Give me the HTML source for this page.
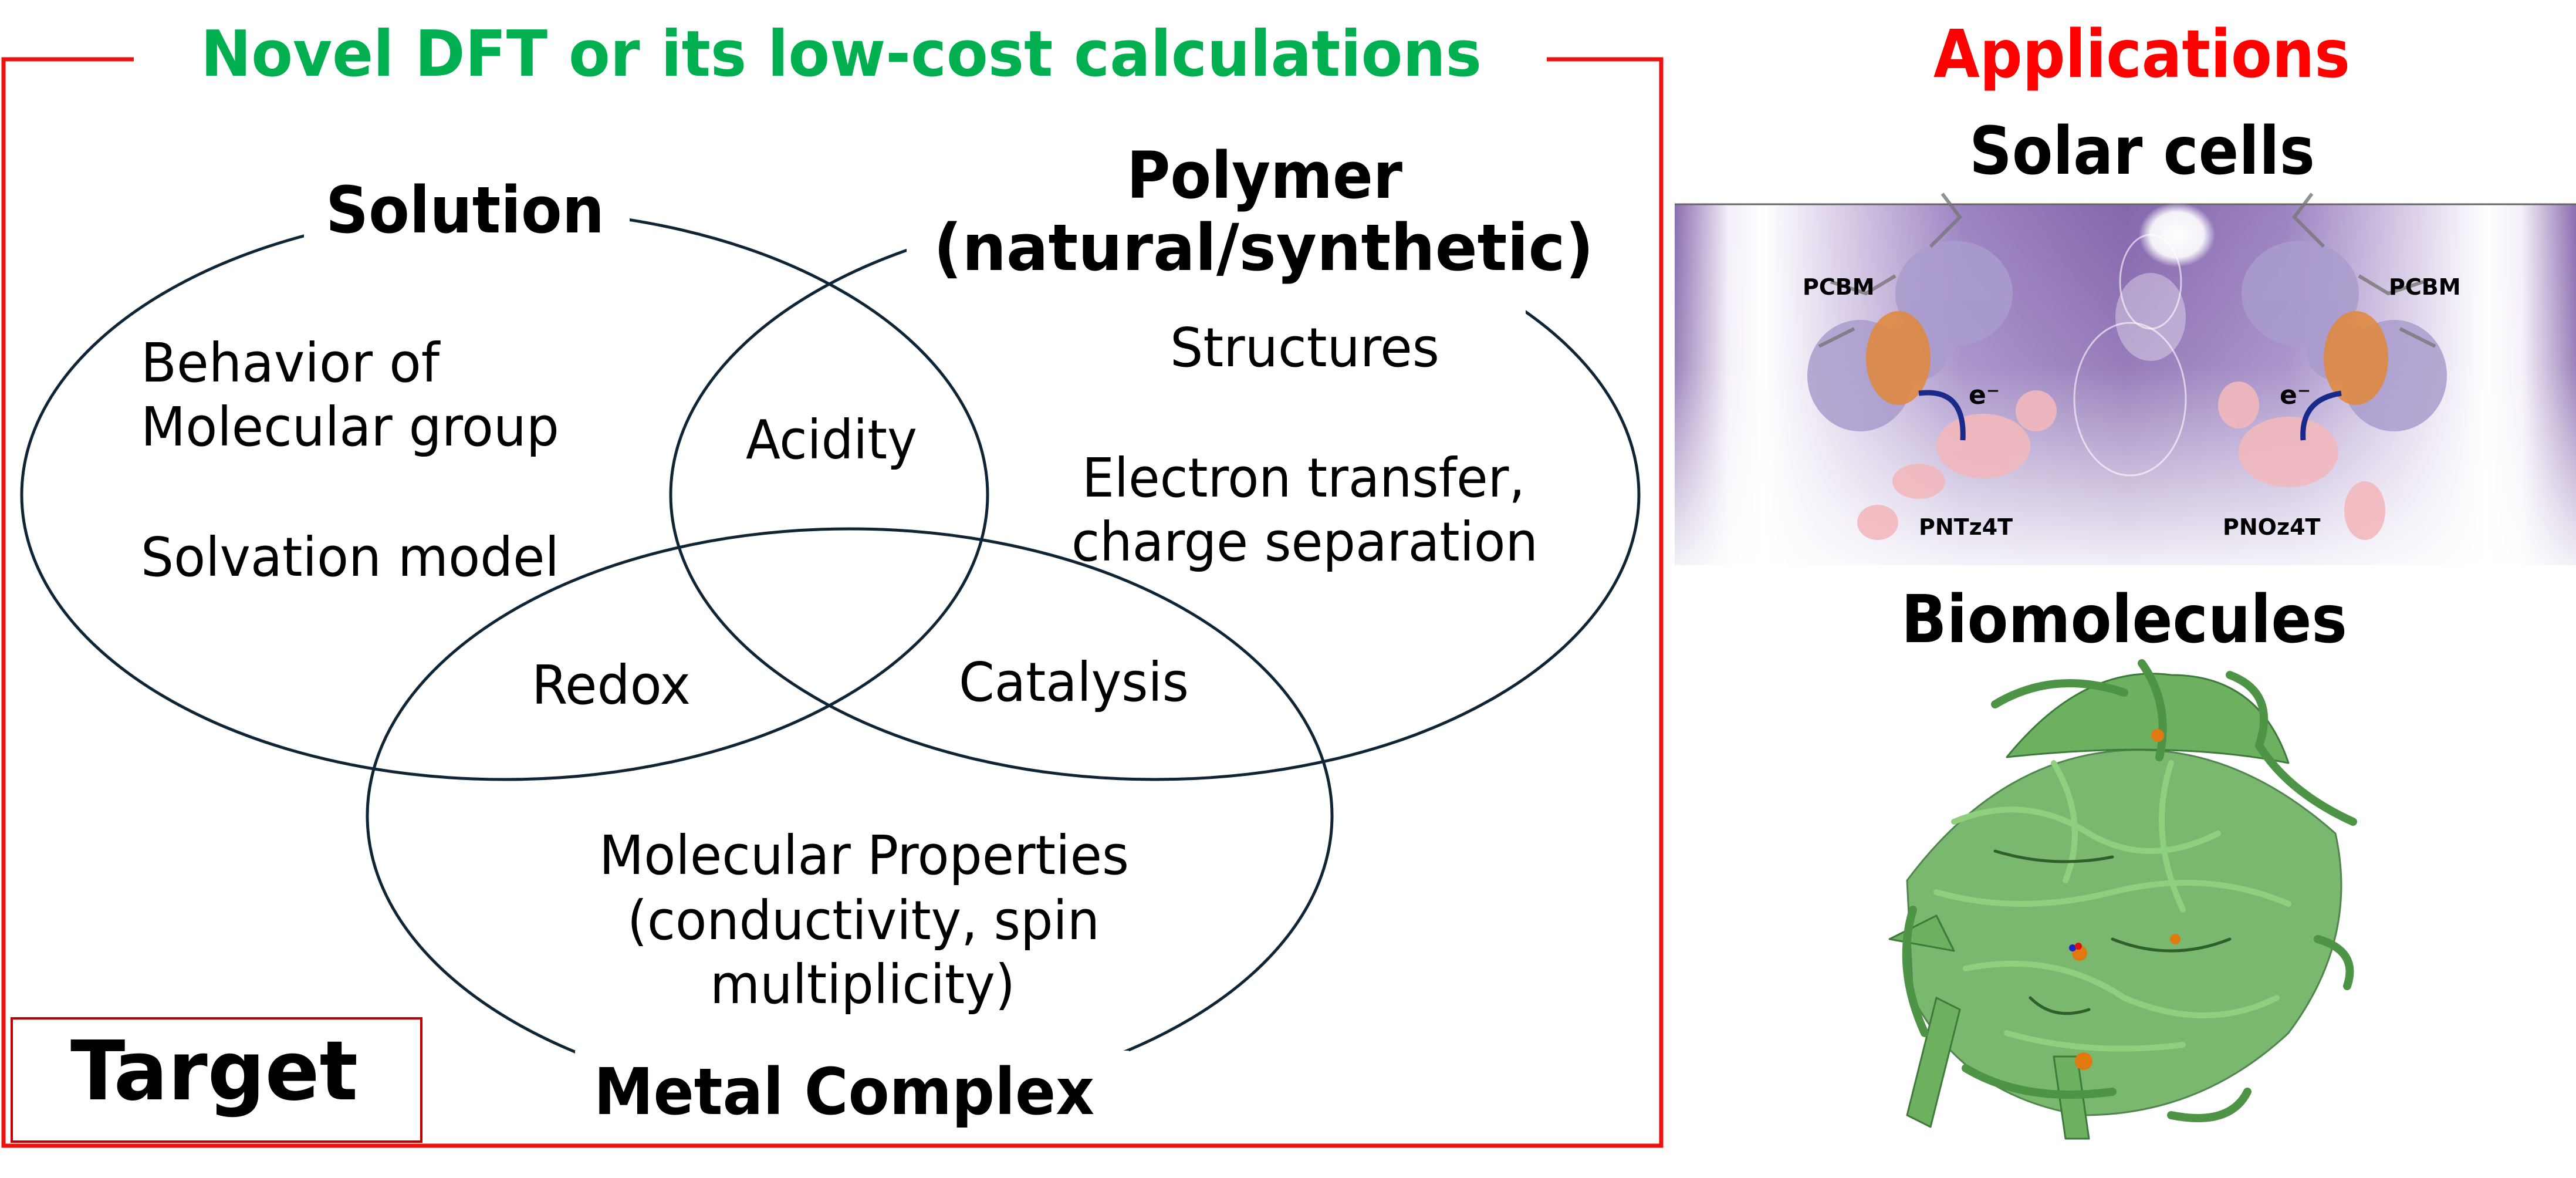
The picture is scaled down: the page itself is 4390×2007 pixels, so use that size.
<!DOCTYPE html>
<html><head><meta charset="utf-8"><style>
html,body{margin:0;padding:0;background:#fff;}
svg{display:block;}
.c{font-family:"DejaVu Sans Condensed","Liberation Sans",sans-serif;}
.v{font-family:"DejaVu Sans","Liberation Sans",sans-serif;font-weight:bold;}
</style></head><body>
<svg width="4390" height="2007" viewBox="0 0 4390 2007" xmlns="http://www.w3.org/2000/svg">
<defs>
<linearGradient id="bgh" x1="0" y1="0" x2="1" y2="0">
<stop offset="0" stop-color="#8a6db0"/><stop offset="0.06" stop-color="#f4eff8"/><stop offset="0.1" stop-color="#fff"/><stop offset="0.17" stop-color="#e0d6ec"/>
<stop offset="0.32" stop-color="#9c83c2"/><stop offset="0.5" stop-color="#8466ad"/><stop offset="0.68" stop-color="#9c83c2"/>
<stop offset="0.83" stop-color="#e0d6ec"/><stop offset="0.9" stop-color="#fff"/><stop offset="0.94" stop-color="#f4eff8"/><stop offset="1" stop-color="#8a6db0"/>
</linearGradient>
<linearGradient id="bgv" x1="0" y1="0" x2="0" y2="1">
<stop offset="0" stop-color="#fff" stop-opacity="0"/><stop offset="0.45" stop-color="#fff" stop-opacity="0.15"/><stop offset="1" stop-color="#fff" stop-opacity="0.9"/>
</linearGradient>
<radialGradient id="sun"><stop offset="0" stop-color="#fff"/><stop offset="0.7" stop-color="#fff" stop-opacity="0.9"/><stop offset="1" stop-color="#fff" stop-opacity="0"/></radialGradient>
</defs>

<!-- red frame -->
<path d="M228 101 H6 V1952 H2831 V101 H2636" fill="none" stroke="#ee1111" stroke-width="7"/>
<text class="c" x="342" y="129" font-size="108" font-weight="bold" fill="#00b050" textLength="2183" lengthAdjust="spacingAndGlyphs">Novel DFT or its low-cost calculations</text>

<!-- ellipses -->
<g fill="none" stroke="#0f2535" stroke-width="5">
<ellipse cx="860" cy="843" rx="823" ry="485"/>
<ellipse cx="1968" cy="843" rx="825" ry="485"/>
<ellipse cx="1448" cy="1390" rx="822" ry="489"/>
</g>
<!-- label gaps -->
<rect x="518" y="290" width="555" height="120" fill="#fff"/>
<rect x="1545" y="240" width="1055" height="300" fill="#fff"/>
<rect x="980" y="1790" width="944" height="150" fill="#fff"/>

<g class="c" fill="#000">
<text x="555" y="396" font-size="110" font-weight="bold" textLength="475" lengthAdjust="spacingAndGlyphs">Solution</text>
<text x="1920" y="337" font-size="110" font-weight="bold" textLength="470" lengthAdjust="spacingAndGlyphs">Polymer</text>
<text x="1591" y="460" font-size="110" font-weight="bold" textLength="1125" lengthAdjust="spacingAndGlyphs">(natural/synthetic)</text>
<text x="1012" y="1898" font-size="110" font-weight="bold" textLength="853" lengthAdjust="spacingAndGlyphs">Metal Complex</text>
<g font-size="92">
<text x="1994" y="624" textLength="459" lengthAdjust="spacingAndGlyphs">Structures</text>
<text x="240" y="650" textLength="509" lengthAdjust="spacingAndGlyphs">Behavior of</text>
<text x="240" y="759" textLength="713" lengthAdjust="spacingAndGlyphs">Molecular group</text>
<text x="240" y="981" textLength="713" lengthAdjust="spacingAndGlyphs">Solvation model</text>
<text x="1271" y="781" textLength="292" lengthAdjust="spacingAndGlyphs">Acidity</text>
<text x="1844" y="846" textLength="755" lengthAdjust="spacingAndGlyphs">Electron transfer,</text>
<text x="1826" y="955" textLength="795" lengthAdjust="spacingAndGlyphs">charge separation</text>
<text x="906" y="1199" textLength="271" lengthAdjust="spacingAndGlyphs">Redox</text>
<text x="1634" y="1194" textLength="392" lengthAdjust="spacingAndGlyphs">Catalysis</text>
<text x="1021" y="1489" textLength="903" lengthAdjust="spacingAndGlyphs">Molecular Properties</text>
<text x="1069" y="1600" textLength="805" lengthAdjust="spacingAndGlyphs">(conductivity, spin</text>
<text x="1210" y="1709" textLength="520" lengthAdjust="spacingAndGlyphs">multiplicity)</text>
</g>
</g>
<rect x="20" y="1735" width="698" height="210" fill="#fff" stroke="#c00000" stroke-width="4"/>
<text class="c" x="120" y="1873" font-size="140" font-weight="bold" textLength="490" lengthAdjust="spacingAndGlyphs">Target</text>

<!-- right side -->
<text class="v" x="3295" y="131" font-size="112" fill="#ff0000" textLength="710" lengthAdjust="spacingAndGlyphs">Applications</text>
<text class="v" x="3356" y="296" font-size="112" fill="#000" textLength="589" lengthAdjust="spacingAndGlyphs">Solar cells</text>
<text class="v" x="3240" y="1094" font-size="112" fill="#000" textLength="760" lengthAdjust="spacingAndGlyphs">Biomolecules</text>

<!-- solar image -->
<g>
<rect x="2854" y="347" width="1536" height="616" fill="url(#bgh)"/>
<rect x="2854" y="347" width="1536" height="616" fill="url(#bgv)"/>
<line x1="2854" y1="348" x2="4390" y2="348" stroke="#666" stroke-width="3"/>
<ellipse cx="3710" cy="400" rx="65" ry="55" fill="url(#sun)"/>
<ellipse cx="3665" cy="480" rx="52" ry="80" fill="none" stroke="#fff" stroke-opacity="0.6" stroke-width="3"/>
<ellipse cx="3665" cy="540" rx="60" ry="75" fill="#fff" fill-opacity="0.35"/>
<ellipse cx="3630" cy="680" rx="95" ry="130" fill="none" stroke="#fff" stroke-opacity="0.6" stroke-width="3"/>
<!-- left molecule -->
<g fill="#a99ccd" opacity="0.85">
<ellipse cx="3330" cy="500" rx="100" ry="90"/><ellipse cx="3170" cy="640" rx="90" ry="95"/><ellipse cx="3260" cy="600" rx="60" ry="50"/>
</g>
<g stroke="#777" stroke-width="6" fill="none" opacity="0.8">
<path d="M3290 420 L3340 370 L3310 330"/><path d="M3230 470 L3180 500 L3120 480"/><path d="M3160 560 L3100 590"/>
</g>
<ellipse cx="3235" cy="610" rx="55" ry="80" fill="#e0873a" opacity="0.85"/>
<g fill="#f2b8bd" opacity="0.9"><ellipse cx="3380" cy="760" rx="80" ry="55"/><ellipse cx="3270" cy="820" rx="45" ry="30"/><ellipse cx="3200" cy="890" rx="35" ry="30"/><ellipse cx="3470" cy="700" rx="35" ry="35"/></g>
<path d="M3270 670 Q3350 660 3345 750" fill="none" stroke="#1a2a8a" stroke-width="9"/>
<!-- right molecule -->
<g fill="#a99ccd" opacity="0.85">
<ellipse cx="3920" cy="500" rx="100" ry="90"/><ellipse cx="4080" cy="640" rx="90" ry="95"/><ellipse cx="3990" cy="600" rx="60" ry="50"/>
</g>
<g stroke="#777" stroke-width="6" fill="none" opacity="0.8">
<path d="M3960 420 L3910 370 L3940 330"/><path d="M4020 470 L4070 500 L4130 480"/><path d="M4090 560 L4150 590"/>
</g>
<ellipse cx="4015" cy="610" rx="55" ry="80" fill="#e0873a" opacity="0.85"/>
<g fill="#f2b8bd" opacity="0.9"><ellipse cx="3900" cy="770" rx="85" ry="60"/><ellipse cx="3815" cy="690" rx="35" ry="40"/><ellipse cx="4030" cy="870" rx="35" ry="50"/></g>
<path d="M3990 670 Q3920 680 3925 750" fill="none" stroke="#1a2a8a" stroke-width="9"/>
<g class="v" font-size="38" fill="#000">
<text x="3072" y="502">PCBM</text><text x="4071" y="502">PCBM</text>
<text x="3270" y="911">PNTz4T</text><text x="3788" y="911">PNOz4T</text>
<text x="3355" y="688" font-size="44">e⁻</text><text x="3885" y="688" font-size="44">e⁻</text>
</g>
</g>

<!-- protein -->
<g fill="none" stroke-linecap="round" stroke-linejoin="round">
<g fill="#6cb060" stroke="#3e7a3a" stroke-width="3">
<path d="M3250 1500 Q3400 1300 3600 1280 Q3800 1260 3980 1420 Q4020 1600 3900 1760 Q3750 1900 3550 1900 Q3350 1870 3260 1700 Z" opacity="0.9"/>
<path d="M3420 1290 Q3550 1130 3700 1150 Q3850 1150 3900 1300 Q3700 1260 3420 1290 Z"/>
<path d="M3220 1600 L3330 1620 L3300 1560 Z"/>
<path d="M3300 1700 L3250 1900 L3290 1920 L3340 1720 Z"/>
<path d="M3500 1800 L3520 1940 L3560 1940 L3540 1800 Z"/>
</g>
<g stroke="#4e9446" stroke-width="14">
<path d="M3400 1200 Q3500 1140 3620 1180"/><path d="M3650 1130 Q3700 1200 3680 1290"/>
<path d="M3800 1150 Q3880 1180 3850 1270 Q3900 1350 4010 1400"/>
<path d="M3260 1550 Q3230 1650 3280 1760"/><path d="M3350 1820 Q3450 1880 3600 1860"/>
<path d="M3950 1600 Q4020 1620 4000 1680"/><path d="M3700 1900 Q3800 1920 3830 1860"/>
</g>
<g stroke="#8fd07f" stroke-width="10">
<path d="M3330 1400 Q3450 1350 3560 1420 Q3660 1480 3780 1420"/>
<path d="M3300 1520 Q3440 1560 3600 1520 Q3760 1480 3900 1540"/>
<path d="M3350 1650 Q3500 1620 3620 1700 Q3760 1760 3880 1700"/>
<path d="M3500 1300 Q3560 1400 3520 1500"/><path d="M3700 1300 Q3660 1420 3720 1550"/>
<path d="M3420 1760 Q3560 1800 3720 1780"/>
</g>
<g stroke="#2f5f2c" stroke-width="5">
<path d="M3400 1450 Q3500 1480 3600 1460"/><path d="M3600 1600 Q3700 1640 3800 1600"/>
<path d="M3460 1700 Q3500 1740 3560 1720"/>
</g>
</g>
<g>
<circle cx="3677" cy="1253" r="11" fill="#e07a10"/><circle cx="3544" cy="1624" r="13" fill="#e07a10"/>
<circle cx="3551" cy="1808" r="15" fill="#e07a10"/><circle cx="3707" cy="1600" r="9" fill="#e07a10"/>
<circle cx="3532" cy="1615" r="6" fill="#1a22cc"/><circle cx="3542" cy="1612" r="6" fill="#dd1111"/>
</g>
</svg>
</body></html>
